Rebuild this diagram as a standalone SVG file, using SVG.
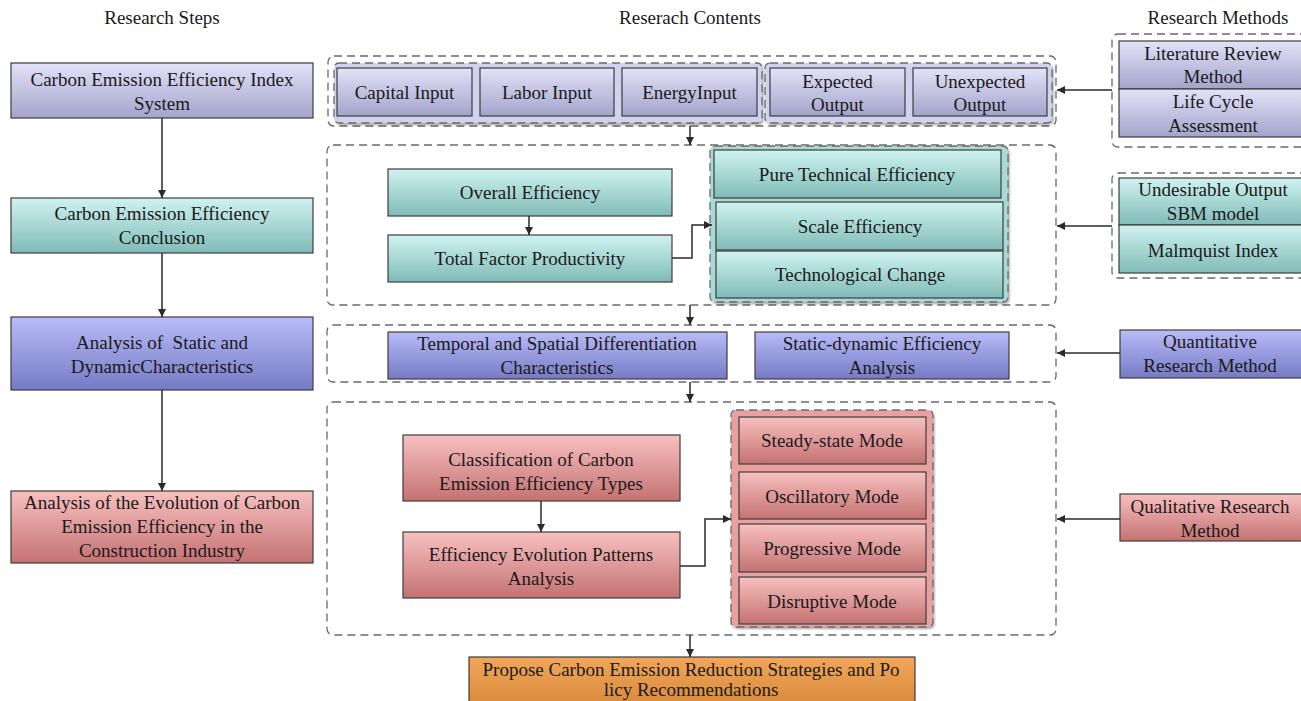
<svg xmlns="http://www.w3.org/2000/svg" width="1301" height="701" viewBox="0 0 1301 701" font-family="'Liberation Serif', 'DejaVu Serif', serif">
<defs>
<linearGradient id="gLav" x1="0" y1="0" x2="0" y2="1"><stop offset="0" stop-color="#e2e2f8"/><stop offset="1" stop-color="#a4a4cc"/></linearGradient>
<linearGradient id="gBlue" x1="0" y1="0" x2="0" y2="1"><stop offset="0" stop-color="#b8bcf8"/><stop offset="1" stop-color="#767ac4"/></linearGradient>
<linearGradient id="gTeal" x1="0" y1="0" x2="0" y2="1"><stop offset="0" stop-color="#cff3f1"/><stop offset="1" stop-color="#80bbb7"/></linearGradient>
<linearGradient id="gPink" x1="0" y1="0" x2="0" y2="1"><stop offset="0" stop-color="#f8c0c0"/><stop offset="1" stop-color="#c47272"/></linearGradient>
<linearGradient id="gOrange" x1="0" y1="0" x2="0" y2="1"><stop offset="0" stop-color="#f2a65a"/><stop offset="1" stop-color="#d88a3a"/></linearGradient>
<filter id="sh" x="-5%" y="-5%" width="110%" height="115%"><feDropShadow dx="1.5" dy="2" stdDeviation="1.2" flood-color="#000" flood-opacity="0.35"/></filter>
<marker id="arr" viewBox="0 0 10 10" refX="10" refY="5" markerWidth="8" markerHeight="8" markerUnits="userSpaceOnUse" orient="auto"><path d="M0,0 L10,5 L0,10 Z" fill="#2a2a2a"/></marker>
</defs>
<style>
text{font-family:'Liberation Serif','DejaVu Serif',serif;font-size:19px;fill:#1a1a1a;text-anchor:middle}
.hd{font-size:19px}
.pre{white-space:pre}
.box{stroke:#3c3c3c;stroke-width:1.2}
.lav{fill:url(#gLav)}
.blue{fill:url(#gBlue)}
.teal{fill:url(#gTeal)}
.pink{fill:url(#gPink)}
.orange{fill:url(#gOrange)}
.dash{fill:none;stroke:#6a6a6a;stroke-width:1.3;stroke-dasharray:8 5}
.conn{fill:none;stroke:#2a2a2a;stroke-width:1.5;marker-end:url(#arr)}
</style>
<rect width="1301" height="701" fill="#ffffff"/>

<g id="headers">
<text class="hd" x="162" y="24">Research Steps</text>
<text class="hd" x="690" y="24">Reserach Contents</text>
<text class="hd" x="1218" y="24">Research Methods</text>
</g>

<g id="containers">
<rect class="dash" x="328" y="56" width="728" height="70" rx="6"/>
<rect class="dash" x="327" y="145" width="729" height="160" rx="6"/>
<rect class="dash" x="327" y="325" width="729" height="57" rx="6"/>
<rect class="dash" x="327" y="402" width="729" height="233" rx="6"/>
<rect class="dash" x="1112" y="34" width="200" height="113" rx="6"/>
<rect class="dash" x="1112" y="173" width="200" height="105" rx="6"/>
<rect x="334" y="63" width="428" height="60" rx="5" fill="#d2d2ee" filter="url(#sh)"/>
<rect class="dash" x="334" y="63" width="428" height="60" rx="5" stroke="#555"/>
<rect x="765" y="63" width="287" height="60" rx="5" fill="#d2d2ee" filter="url(#sh)"/>
<rect class="dash" x="765" y="63" width="287" height="60" rx="5" stroke="#555"/>
<rect x="710" y="146" width="298" height="156" rx="5" fill="#a9d9d5" filter="url(#sh)"/>
<rect class="dash" x="710" y="146" width="298" height="156" rx="5" stroke="#555"/>
<rect x="731" y="410" width="202" height="217" rx="5" fill="#e8a0a0" filter="url(#sh)"/>
<rect class="dash" x="731" y="410" width="202" height="217" rx="5" stroke="#555"/>
</g>

<g id="step1"><rect class="box lav" x="11" y="63" width="302" height="55"/><text x="162" y="86">Carbon Emission Efficiency Index</text><text x="162" y="110">System</text></g>
<g id="step2"><rect class="box teal" x="11" y="198" width="302" height="55"/><text x="162" y="220">Carbon Emission Efficiency</text><text x="162" y="244">Conclusion</text></g>
<g id="step3"><rect class="box blue" x="11" y="317" width="302" height="73"/><text class="pre" x="162" y="349">Analysis of  Static and</text><text x="162" y="373">DynamicCharacteristics</text></g>
<g id="step4"><rect class="box pink" x="11" y="491" width="302" height="72"/><text x="162" y="509">Analysis of the Evolution of Carbon</text><text x="162" y="533">Emission Efficiency in the</text><text x="162" y="557">Construction Industry</text></g>

<g id="capital"><rect class="box lav" x="337" y="68" width="135" height="48"/><text x="404.5" y="99">Capital Input</text></g>
<g id="labor"><rect class="box lav" x="480" y="68" width="134" height="48"/><text x="547" y="99">Labor Input</text></g>
<g id="energy"><rect class="box lav" x="622" y="68" width="135" height="48"/><text x="689.5" y="99">EnergyInput</text></g>
<g id="expected"><rect class="box lav" x="770" y="68" width="135" height="48"/><text x="837.5" y="88">Expected</text><text x="837.5" y="111">Output</text></g>
<g id="unexpected"><rect class="box lav" x="913" y="68" width="134" height="48"/><text x="980" y="88">Unexpected</text><text x="980" y="111">Output</text></g>

<g id="literature"><rect class="box lav" x="1119" y="41" width="190" height="48"/><text x="1213" y="60">Literature Review</text><text x="1213" y="83">Method</text></g>
<g id="lca"><rect class="box lav" x="1119" y="89" width="190" height="48"/><text x="1213" y="108">Life Cycle</text><text x="1213" y="132">Assessment</text></g>
<g id="sbm"><rect class="box teal" x="1119" y="178" width="190" height="47"/><text x="1213" y="196">Undesirable Output</text><text x="1213" y="220">SBM model</text></g>
<g id="malmquist"><rect class="box teal" x="1119" y="225" width="190" height="48"/><text x="1213" y="257">Malmquist Index</text></g>
<g id="quantitative"><rect class="box blue" x="1120" y="330" width="190" height="48"/><text x="1210" y="348">Quantitative</text><text x="1210" y="372">Research Method</text></g>
<g id="qualitative"><rect class="box pink" x="1120" y="494" width="190" height="47"/><text x="1210" y="513">Qualitative Research</text><text x="1210" y="537">Method</text></g>

<g id="overall"><rect class="box teal" x="388" y="169" width="284" height="47"/><text x="530" y="199">Overall Efficiency</text></g>
<g id="tfp"><rect class="box teal" x="388" y="235" width="284" height="47"/><text x="530" y="265">Total Factor Productivity</text></g>
<g id="pte"><rect class="box teal" x="714" y="150" width="287" height="48"/><text x="857" y="181">Pure Technical Efficiency</text></g>
<g id="se"><rect class="box teal" x="716" y="202" width="287" height="48"/><text x="860" y="233">Scale Efficiency</text></g>
<g id="tc"><rect class="box teal" x="716" y="251" width="287" height="47"/><text x="860" y="281">Technological Change</text></g>

<g id="temporal"><rect class="box blue" x="388" y="332" width="339" height="47"/><text x="557" y="350">Temporal and Spatial Differentiation</text><text x="557" y="374">Characteristics</text></g>
<g id="staticdyn"><rect class="box blue" x="755" y="332" width="254" height="47"/><text x="882" y="350">Static-dynamic Efficiency</text><text x="882" y="374">Analysis</text></g>

<g id="classification"><rect class="box pink" x="403" y="435" width="277" height="66"/><text x="541" y="466">Classification of Carbon</text><text x="541" y="490">Emission Efficiency Types</text></g>
<g id="evolution"><rect class="box pink" x="403" y="532" width="277" height="66"/><text x="541" y="561">Efficiency Evolution Patterns</text><text x="541" y="585">Analysis</text></g>
<g id="steady"><rect class="box pink" x="739" y="417" width="187" height="47"/><text x="832" y="447">Steady-state Mode</text></g>
<g id="oscillatory"><rect class="box pink" x="739" y="472" width="187" height="47"/><text x="832" y="503">Oscillatory Mode</text></g>
<g id="progressive"><rect class="box pink" x="739" y="524" width="187" height="48"/><text x="832" y="555">Progressive Mode</text></g>
<g id="disruptive"><rect class="box pink" x="739" y="577" width="187" height="47"/><text x="832" y="608">Disruptive Mode</text></g>

<g id="propose"><rect class="box orange" x="469" y="657" width="446" height="50"/><text x="691" y="676">Propose Carbon Emission Reduction Strategies and Po</text><text x="691" y="696">licy Recommendations</text></g>

<g id="connectors">
<path class="conn" d="M162,118 V198"/>
<path class="conn" d="M162,253 V317"/>
<path class="conn" d="M162,390 V491"/>
<path class="conn" d="M690,126 V145"/>
<path class="conn" d="M690,305 V325"/>
<path class="conn" d="M690,382 V402"/>
<path class="conn" d="M690,635 V657"/>
<path class="conn" d="M529,216 V235"/>
<path class="conn" d="M672,258 H692 V225 H712"/>
<path class="conn" d="M541,501 V532"/>
<path class="conn" d="M680,566 H705 V519 H731"/>
<path class="conn" d="M1112,90 H1057"/>
<path class="conn" d="M1112,226 H1057"/>
<path class="conn" d="M1120,353 H1057"/>
<path class="conn" d="M1120,519 H1057"/>
</g>
</svg>
